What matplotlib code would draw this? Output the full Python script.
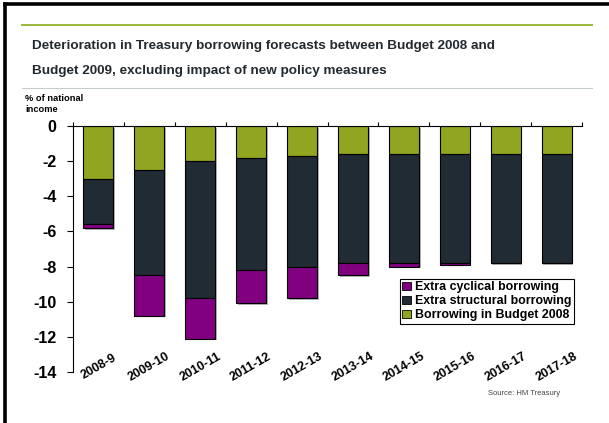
import matplotlib.pyplot as plt
import matplotlib.patheffects as pe
from matplotlib.patches import Patch
from matplotlib.lines import Line2D

plt.rcParams['font.family'] = ['Liberation Sans', 'DejaVu Sans']

years = ['2008-9', '2009-10', '2010-11', '2011-12', '2012-13',
         '2013-14', '2014-15', '2015-16', '2016-17', '2017-18']
# % of national income (borrowing shown as negative)
budget_2008 = [3.0, 2.5, 2.0, 1.8, 1.7, 1.6, 1.6, 1.6, 1.6, 1.6]
structural = [2.6, 6.0, 7.8, 6.4, 6.3, 6.2, 6.2, 6.2, 6.2, 6.2]
cyclical = [0.2, 2.3, 2.3, 1.9, 1.8, 0.7, 0.2, 0.1, 0.0, 0.0]

green = '#92a521'
dark = '#212b33'
purple = '#800080'
txt = '#222a30'

fig = plt.figure(figsize=(6.09, 4.23), dpi=100)

# slide frame: only left and top edges fall inside the image
fig.add_artist(Line2D([4.5 / 609, 4.5 / 609], [0, 1 - 4.5 / 423], color='black', linewidth=2.6))
fig.add_artist(Line2D([4.5 / 609, 1], [1 - 4.5 / 423] * 2, color='black', linewidth=2.6))
fig.add_artist(Line2D([22 / 609, 592 / 609], [1 - 25 / 423] * 2, color='#9ab73a', linewidth=1.4))
fig.add_artist(Line2D([22 / 609, 592 / 609], [1 - 88 / 423] * 2, color='#c8cdd0', linewidth=0.8))

fig.text(32 / 609, 1 - 46 / 423, 'Deterioration in Treasury borrowing forecasts between Budget 2008 and',
         fontsize=9.7, fontweight='bold', color=txt, va='center')
fig.text(32 / 609, 1 - 71 / 423, 'Budget 2009, excluding impact of new policy measures',
         fontsize=9.7, fontweight='bold', color=txt, va='center')
fig.text(25 / 609, 1 - 104 / 423, '% of national\nincome', fontsize=6.7, fontweight='bold',
         color='black', va='center', linespacing=1.2)
fig.text(560 / 609, 1 - 393 / 423, 'Source: HM Treasury', fontsize=5.5, color='#444444',
         ha='right', va='center')

ax = fig.add_axes([73 / 609, 1 - 372 / 423, (582 - 73) / 609, (372 - 126) / 423])

x = list(range(len(years)))
neg_b = [-v for v in budget_2008]
neg_s = [-v for v in structural]
neg_c = [-v for v in cyclical]
bottom_c = [-(b + s) for b, s in zip(budget_2008, structural)]

shadow = [pe.SimplePatchShadow(offset=(1.2, -1.2), shadow_rgbFace='#999999', alpha=0.7), pe.Normal()]
w = 0.59
bars_b = ax.bar(x, neg_b, w, color=green, edgecolor='black', linewidth=0.8)
bars_s = ax.bar(x, neg_s, w, bottom=neg_b, color=dark, edgecolor='black', linewidth=0.8)
bars_c = ax.bar(x, neg_c, w, bottom=bottom_c, color=purple, edgecolor='black', linewidth=0.8)
for bars in (bars_b, bars_s, bars_c):
    for p in bars:
        p.set_path_effects(shadow)

ax.set_xlim(-0.5, len(years) - 0.5)
ax.set_ylim(-14, 0)
ax.set_yticks(range(-14, 1, 2))
ax.set_yticklabels([str(v) for v in range(-14, 1, 2)])
ax.tick_params(axis='y', direction='out', length=4, width=0.8, pad=8, labelsize=11.5)
for lab in ax.get_yticklabels():
    lab.set_fontweight('bold')

# category boundaries as ticks on the zero line
ax.xaxis.tick_top()
ax.set_xticks([i - 0.5 for i in range(len(years) + 1)])
ax.set_xticklabels([])
ax.tick_params(axis='x', direction='out', length=3, width=0.8)

for i, yr in enumerate(years):
    ax.text(i, 0.02, yr, transform=ax.get_xaxis_transform(), rotation=30,
            ha='center', va='center', fontsize=9, fontweight='bold')

for side in ('right', 'bottom'):
    ax.spines[side].set_visible(False)
ax.spines['top'].set_linewidth(0.8)
ax.spines['left'].set_linewidth(0.8)

handles = [Patch(facecolor=purple, edgecolor='black', linewidth=0.6),
           Patch(facecolor=dark, edgecolor='black', linewidth=0.6),
           Patch(facecolor=green, edgecolor='black', linewidth=0.6)]
labels = ['Extra cyclical borrowing', 'Extra structural borrowing', 'Borrowing in Budget 2008']
leg = ax.legend(handles, labels, loc='upper left', bbox_to_anchor=(327 / 509, (372 - 279) / 246),
                frameon=True, fancybox=False, edgecolor='black', framealpha=1,
                handlelength=0.7, handleheight=0.7, handletextpad=0.35, borderpad=0.2,
                labelspacing=0.15, borderaxespad=0, prop={'weight': 'bold', 'size': 8.9})
leg.get_frame().set_linewidth(0.8)

fig.savefig('out.png', dpi=100)
